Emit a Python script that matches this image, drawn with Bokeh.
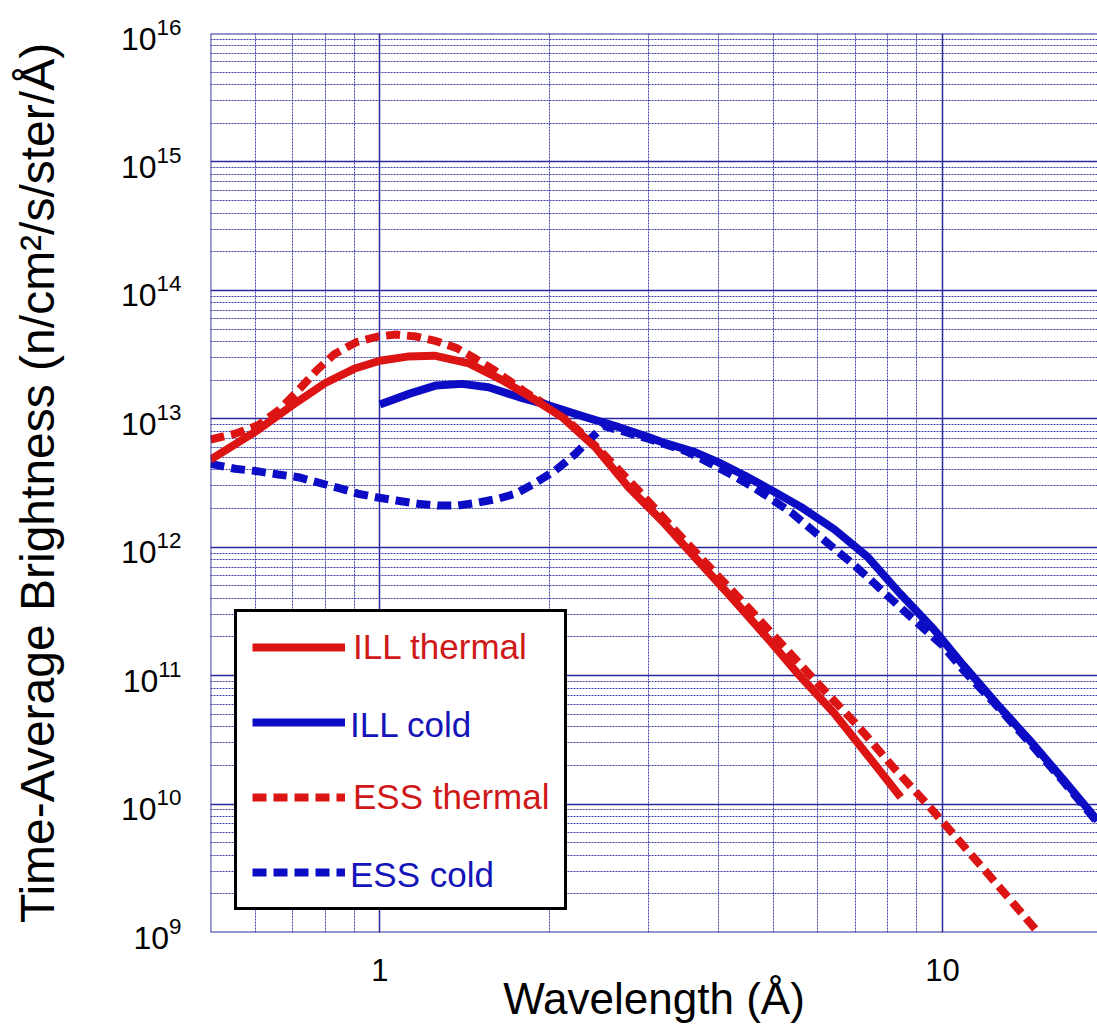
from bokeh.plotting import figure
from bokeh.models import (Range1d, FixedTicker, LogTickFormatter, CustomJSTickFormatter,
                          Legend, LegendItem, Span)
from bokeh.embed import file_html
from bokeh.resources import INLINE

# ---------------- data ----------------
ill_thermal_x = [0.5, 0.6, 0.7, 0.8, 0.9, 1.0, 1.12, 1.25, 1.44, 1.65, 1.89, 2.108, 2.415, 2.767,
                 3.0, 3.17, 3.63, 4.16, 4.89, 5.55, 6.42, 7.36, 8.43]
ill_thermal_y = [4.8e12, 7.9e12, 1.28e13, 1.9e13, 2.45e13, 2.83e13, 3.05e13, 3.1e13, 2.7e13, 2.0e13,
                 1.4e13, 1.03e13, 6.0e12, 2.93e12, 2.05e12, 1.61e12, 8.36e11, 4.34e11, 1.95e11,
                 1.02e11, 5.1e10, 2.4e10, 1.13e10]

ill_cold_x = [1.0, 1.13, 1.26, 1.40, 1.56, 1.77, 2.0, 2.32, 2.66, 3.0, 3.17, 3.63, 3.99, 4.45, 5.03,
              5.61, 6.08, 6.42, 7.36, 8.43, 9.65, 10.9, 12.5, 14.3, 16.4, 18.86]
ill_cold_y = [1.29e13, 1.57e13, 1.82e13, 1.87e13, 1.76e13, 1.47e13, 1.27e13, 1.03e13, 8.6e12, 7.2e12,
              6.6e12, 5.5e12, 4.6e12, 3.62e12, 2.69e12, 2.05e12, 1.62e12, 1.38e12, 8.4e11, 4.3e11,
              2.3e11, 1.2e11, 6.0e10, 3.13e10, 1.55e10, 7.45e9]

ess_thermal_x = [0.5, 0.556, 0.608, 0.66, 0.711, 0.772, 0.831, 0.908, 0.992, 1.07, 1.16, 1.26, 1.37,
                 1.48, 1.6, 1.8, 2.1, 2.45, 2.88, 3.35, 3.88, 4.54, 5.27, 6.08, 7.06, 8.12, 9.35,
                 10.76, 12.41, 14.8]
ess_thermal_y = [6.9e12, 7.7e12, 8.9e12, 1.16e13, 1.61e13, 2.38e13, 3.2e13, 3.95e13, 4.37e13, 4.53e13,
                 4.37e13, 4.02e13, 3.55e13, 2.93e13, 2.38e13, 1.65e13, 1.08e13, 5.8e12, 2.77e12,
                 1.35e12, 6.8e11, 3.3e11, 1.62e11, 8.2e10, 4.1e10, 2.0e10, 1.02e10, 5.05e9, 2.46e9,
                 1.0e9]

ess_cold_x = [0.5, 0.553, 0.604, 0.66, 0.716, 0.772, 0.843, 0.914, 0.985, 1.069, 1.168, 1.267, 1.374,
              1.491, 1.618, 1.743, 1.879, 2.051, 2.226, 2.366, 2.5, 3.0, 3.5, 3.88, 4.24, 4.61, 4.96,
              5.38, 5.88, 6.38, 6.88, 7.41, 7.98, 8.6, 9.27, 10.0, 10.9, 12.5, 14.3, 16.4, 18.86]
ess_cold_y = [4.46e12, 4.08e12, 3.91e12, 3.68e12, 3.51e12, 3.21e12, 2.9e12, 2.61e12, 2.45e12, 2.31e12,
              2.18e12, 2.11e12, 2.11e12, 2.22e12, 2.38e12, 2.61e12, 3.12e12, 3.96e12, 5.33e12,
              6.98e12, 8.8e12, 7.0e12, 5.6e12, 4.46e12, 3.62e12, 2.94e12, 2.38e12, 1.87e12, 1.35e12,
              1.0e12, 7.6e11, 5.7e11, 4.2e11, 3.12e11, 2.32e11, 1.72e11, 1.1e11, 5.8e10, 3.0e10,
              1.5e10, 7.2e9]

series_labels = ["ILL thermal", "ILL cold", "ESS thermal", "ESS cold"]

x_major_ticks = [1, 10]
x_minor_ticks = [0.6, 0.7, 0.8, 0.9, 2, 3, 4, 5, 6, 7, 8, 9]
y_major_ticks = [1e9, 1e10, 1e11, 1e12, 1e13, 1e14, 1e15, 1e16]
y_minor_ticks = [k * 10.0 ** n for n in range(9, 16) for k in range(2, 10)]

x_title = "Wavelength (Å)"
y_title = "Time-Average Brightness (n/cm²/s/ster/Å)"

# ---------------- styling ----------------
RED = "#dc1414"
BLUE = "#0c0cc4"
RED_TXT = "#d01818"
BLUE_TXT = "#1414b8"
GRID_MAJOR = "#2a2a9e"
GRID_MINOR = "#3636a4"
FONT = "Liberation Sans"

p = figure(width=1097, height=1030, x_axis_type="log", y_axis_type="log",
           x_range=Range1d(0.5, 18.86), y_range=Range1d(1e9, 1e16),
           output_backend="svg", toolbar_location=None,
           min_border_left=210, min_border_right=0, min_border_top=33, min_border_bottom=98)
p.outline_line_color = None
p.background_fill_color = "white"
p.border_fill_color = "white"

xt = FixedTicker(ticks=x_major_ticks, minor_ticks=x_minor_ticks)
yt = FixedTicker(ticks=y_major_ticks, minor_ticks=y_minor_ticks)
p.xaxis.ticker = xt
p.yaxis.ticker = yt
p.xgrid.ticker = xt
p.ygrid.ticker = yt
p.xaxis.formatter = CustomJSTickFormatter(code="return tick.toFixed(0)")
p.yaxis.formatter = LogTickFormatter()

for g in (p.xgrid, p.ygrid):
    g.grid_line_color = GRID_MAJOR
    g.grid_line_width = 1.5
    g.minor_grid_line_color = GRID_MINOR
    g.minor_grid_line_width = 1
    g.minor_grid_line_dash = "2 1"
    g.minor_grid_line_alpha = 0.95

p.axis.axis_line_color = None
p.axis.major_tick_line_color = None
p.axis.minor_tick_line_color = None
p.axis.major_label_text_font = FONT
p.axis.major_label_text_color = "black"
p.axis.axis_label_text_font = FONT
p.axis.axis_label_text_font_style = "normal"
p.axis.axis_label_text_color = "black"
p.xaxis.major_label_text_font_size = "31px"
p.yaxis.major_label_text_font_size = "32px"
p.xaxis.axis_label_text_font_size = "44px"
p.yaxis.axis_label_text_font_size = "48px"
p.xaxis.axis_label = x_title
p.yaxis.axis_label = y_title
p.yaxis.major_label_standoff = 23
p.yaxis.axis_label_standoff = 54
p.xaxis.major_label_standoff = 20
p.xaxis.axis_label_standoff = -10

# frame edges (left, top, bottom)
p.add_layout(Span(location=0.5, dimension="height", line_color=GRID_MAJOR, line_width=1.8))
p.add_layout(Span(location=1e16, dimension="width", line_color=GRID_MAJOR, line_width=1.8))
p.add_layout(Span(location=1e9, dimension="width", line_color=GRID_MAJOR, line_width=1.8))

LW = 8
r_ess_t = p.line(ess_thermal_x, ess_thermal_y, line_color=RED, line_width=LW, line_dash="14 7",
                 line_cap="butt", line_join="round")
r_ess_c = p.line(ess_cold_x, ess_cold_y, line_color=BLUE, line_width=LW, line_dash="14 7",
                 line_cap="butt", line_join="round")
r_ill_c = p.line(ill_cold_x, ill_cold_y, line_color=BLUE, line_width=LW, line_join="round")
r_ill_t = p.line(ill_thermal_x, ill_thermal_y, line_color=RED, line_width=LW, line_join="round")
r_dummy = p.line([], [], line_alpha=0)

PAD = 15
common = dict(glyph_width=93, glyph_height=40, label_height=40,
              label_standoff=8, spacing=35, padding=PAD, margin=0,
              label_text_font=FONT, label_text_font_size="35px")

legA = Legend(items=[LegendItem(label=series_labels[0], renderers=[r_ill_t]),
                     LegendItem(label=" ", renderers=[r_ill_c]),
                     LegendItem(label=series_labels[2], renderers=[r_ess_t]),
                     LegendItem(label=" ", renderers=[r_ess_c])],
              location=(24, 22),
              border_line_color="black", border_line_alpha=1.0, border_line_width=3,
              background_fill_color="white", background_fill_alpha=1.0,
              label_text_color=RED_TXT, **common)
# borderless legend: bokeh drops the padding, so shift it by the padding
legB = Legend(items=[LegendItem(label=" ", renderers=[r_dummy]),
                     LegendItem(label=series_labels[1], renderers=[r_dummy]),
                     LegendItem(label=" ", renderers=[r_dummy]),
                     LegendItem(label=series_labels[3], renderers=[r_dummy])],
              location=(24 + PAD, 22 + PAD),
              border_line_color=None, background_fill_alpha=0.0,
              label_text_color=BLUE_TXT, **common)
p.add_layout(legA)
p.add_layout(legB)

open("out.html", "w").write(file_html(p, INLINE))
